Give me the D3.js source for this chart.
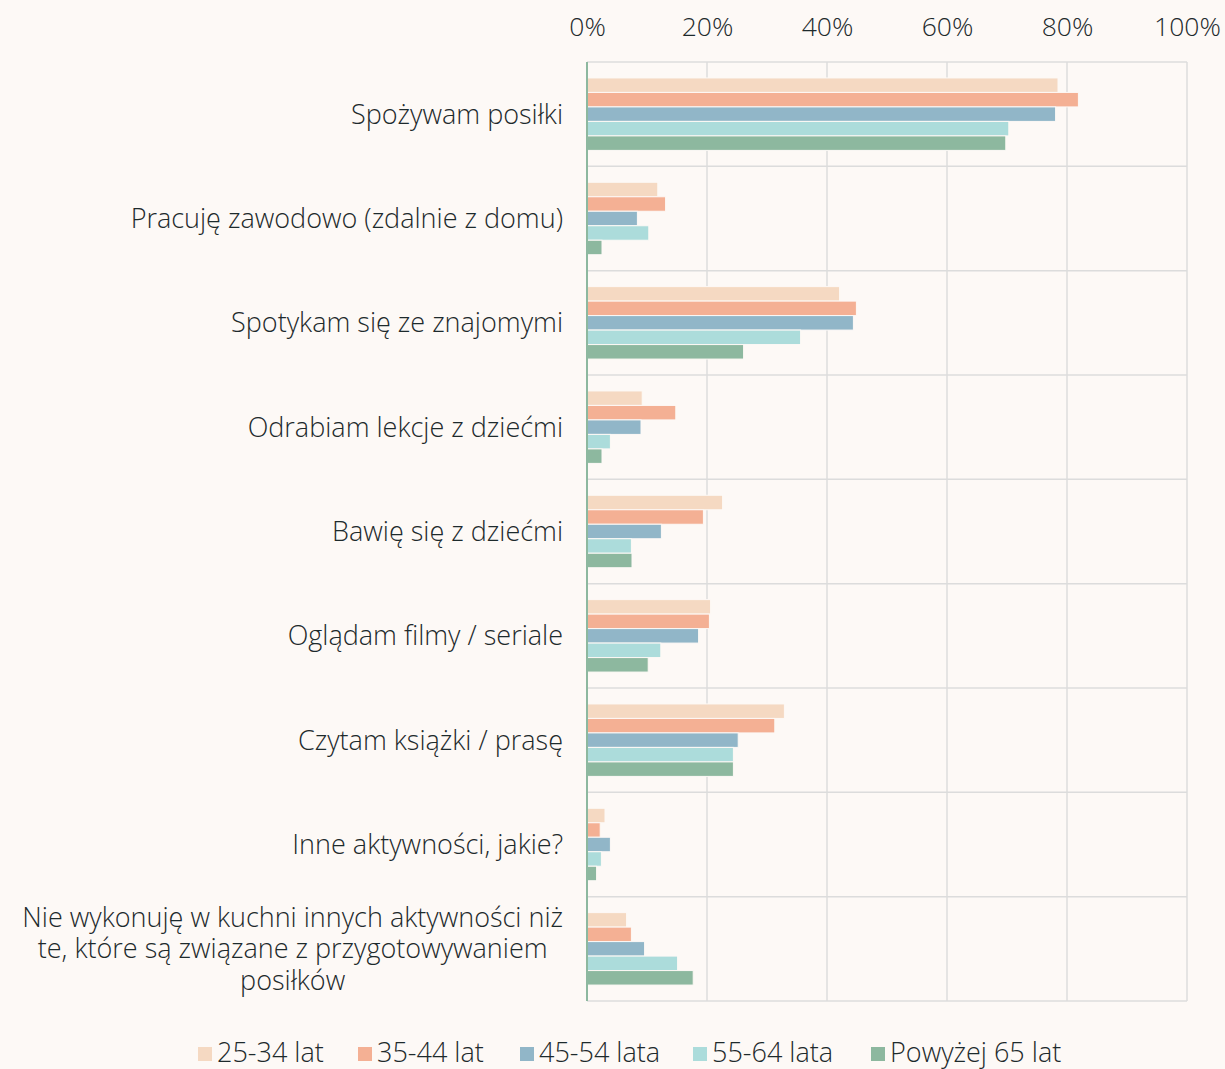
<!DOCTYPE html>
<html>
<head>
<meta charset="utf-8">
<script src="https://cdn.jsdelivr.net/npm/d3@7"></script>
<style>
  html, body { margin: 0; padding: 0; background: #fdf9f6; }
  svg { display: block; }
</style>
</head>
<body>
<svg id="chart"></svg>
<script>
const categories = [
    ["Spożywam posiłki"],
    ["Pracuję zawodowo (zdalnie z domu)"],
    ["Spotykam się ze znajomymi"],
    ["Odrabiam lekcje z dziećmi"],
    ["Bawię się z dziećmi"],
    ["Oglądam filmy / seriale"],
    ["Czytam książki / prasę"],
    ["Inne aktywności, jakie?"],
    ["Nie wykonuję w kuchni innych aktywności niż", "te, które są związane z przygotowywaniem", "posiłków"]
];

const seriesNames = ["25-34 lat", "35-44 lat", "45-54 lata", "55-64 lata", "Powyżej 65 lat"];
const seriesColors = ["#f5d9c2", "#f4b094", "#91b6c8", "#acdcdb", "#8db89f"];

// percentages, one array per age group, in category order
const age25_34 = [78.5, 11.8, 42.1, 9.2, 22.6, 20.6, 32.9, 3.0, 6.6];
const age35_44 = [81.9, 13.1, 44.9, 14.8, 19.4, 20.4, 31.3, 2.2, 7.4];
const age45_54 = [78.1, 8.4, 44.4, 9.0, 12.4, 18.6, 25.2, 3.9, 9.6];
const age55_64 = [70.3, 10.3, 35.6, 3.9, 7.4, 12.3, 24.4, 2.4, 15.1];
const age65up  = [69.8, 2.5, 26.1, 2.5, 7.5, 10.2, 24.4, 1.6, 17.7];
const seriesValues = [age25_34, age35_44, age45_54, age55_64, age65up];

const xTicks = [0, 20, 40, 60, 80, 100];

const width = 1225, height = 1069;
const margin = {top: 62, right: 38, bottom: 68, left: 587};
const font = "'Open Sans', Lato, sans-serif";
const textColor = "#1d2a2c";
const fontSize = "27px";

const svg = d3.select("#chart")
    .attr("width", width)
    .attr("height", height)
    .style("font-family", font)
    .style("font-weight", 300);

svg.append("rect").attr("width", width).attr("height", height).attr("fill", "#fdf9f6");

const x = d3.scaleLinear()
    .domain([0, 100])
    .range([margin.left, width - margin.right]);

const y = d3.scaleBand()
    .domain(d3.range(categories.length))
    .range([margin.top, height - margin.bottom]);

const inner = d3.scaleBand()
    .domain(d3.range(seriesNames.length))
    .range([0, y.bandwidth()])
    .paddingOuter(1.1);

// vertical grid
svg.append("g")
    .selectAll("line")
    .data(xTicks.slice(1))
    .join("line")
    .attr("x1", d => x(d)).attr("x2", d => x(d))
    .attr("y1", margin.top).attr("y2", height - margin.bottom)
    .attr("stroke", "#dcdcdc")
    .attr("stroke-width", 1.5);

// horizontal separators
svg.append("g")
    .selectAll("line")
    .data(d3.range(categories.length + 1))
    .join("line")
    .attr("x1", x(0)).attr("x2", x(100))
    .attr("y1", d => d < categories.length ? y(d) : y.range()[1])
    .attr("y2", d => d < categories.length ? y(d) : y.range()[1])
    .attr("stroke", "#dcdcdc")
    .attr("stroke-width", 1.5);

// top axis labels
const xAxis = g => g
    .attr("transform", `translate(0,${27})`)
    .call(d3.axisTop(x).tickValues(xTicks).tickFormat(d => d + "%").tickSize(0))
    .call(g => g.select(".domain").remove())
    .call(g => g.selectAll("text")
        .attr("dy", "0.35em")
        .attr("y", 0)
        .attr("fill", textColor)
        .style("font-family", font)
        .style("font-weight", 300)
        .style("font-size", "26.5px"));
svg.append("g").call(xAxis);

// bars
seriesValues.forEach((vals, s) => {
    svg.append("g")
        .selectAll("rect")
        .data(vals)
        .join("rect")
        .attr("x", x(0))
        .attr("y", (d, i) => y(i) + inner(s))
        .attr("width", d => x(d) - x(0))
        .attr("height", inner.bandwidth())
        .attr("fill", seriesColors[s])
        .attr("stroke", "#fdf9f6")
        .attr("stroke-width", 1);
});

// zero axis line
svg.append("line")
    .attr("x1", x(0)).attr("x2", x(0))
    .attr("y1", margin.top).attr("y2", height - margin.bottom)
    .attr("stroke", "#8db89f")
    .attr("stroke-width", 2);

// category labels
const labelRight = 563;
const lineH = 31.5;
categories.forEach((lines, i) => {
    const cy = y(i) + y.bandwidth() / 2;
    const t = svg.append("text")
        .attr("fill", textColor)
        .style("font-size", fontSize)
        .attr("text-anchor", "middle");
    lines.forEach((ln, j) => {
        t.append("tspan")
            .attr("y", cy + (j - (lines.length - 1) / 2) * lineH)
            .attr("dy", "0.35em")
            .text(ln);
    });
    const tspans = t.selectAll("tspan").nodes();
    const maxW = d3.max(tspans, n => n.getComputedTextLength());
    t.selectAll("tspan").attr("x", labelRight - maxW / 2);
});

// legend
const legendX = [198, 358, 520, 693, 871];
const legend = svg.append("g")
    .selectAll("g")
    .data(seriesNames)
    .join("g")
    .attr("transform", (d, i) => `translate(${legendX[i]},1053)`);
legend.append("rect")
    .attr("x", 0).attr("y", -6)
    .attr("width", 14).attr("height", 14)
    .attr("fill", (d, i) => seriesColors[i]);
legend.append("text")
    .attr("x", 19)
    .attr("dy", "0.35em")
    .attr("fill", textColor)
    .style("font-size", fontSize)
    .text(d => d);
</script>
</body>
</html>
